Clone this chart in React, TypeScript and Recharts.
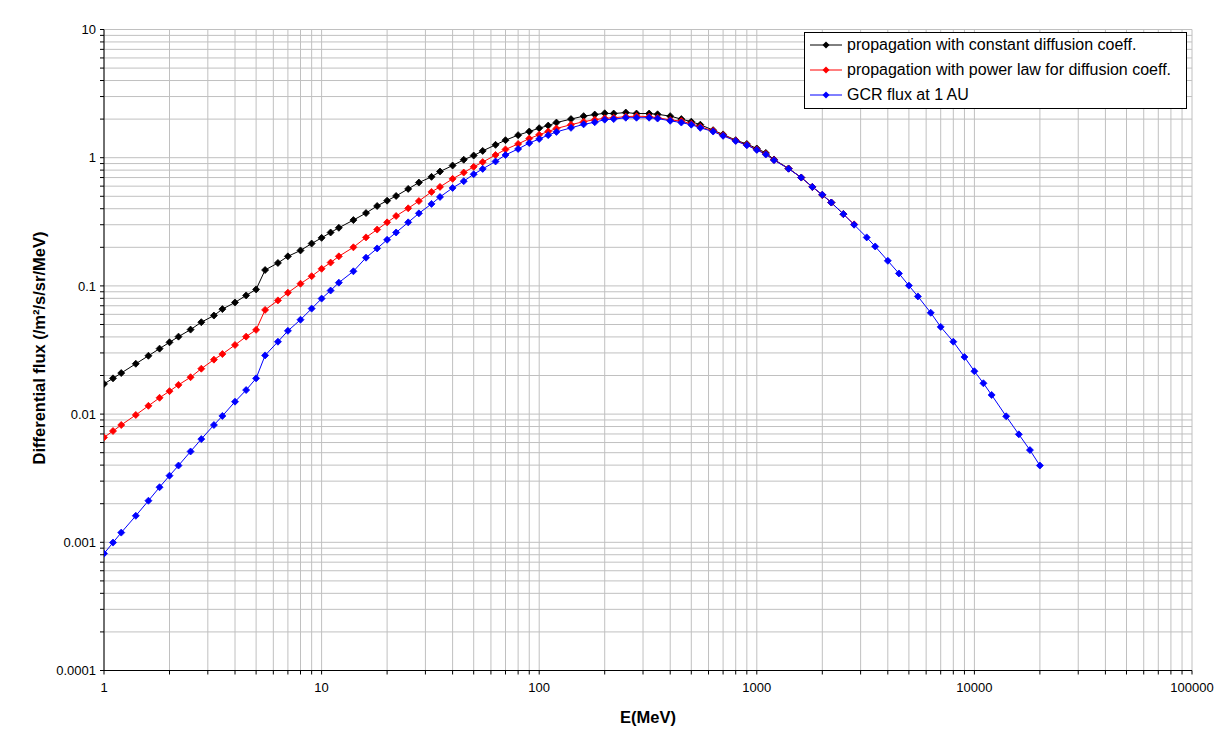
import React from 'react';
import { LineChart, Line, XAxis, YAxis, CartesianGrid, Legend } from 'recharts';

// Energies (MeV) at which the fluxes are tabulated
const ENERGY = [
  1, 1.1, 1.2, 1.4, 1.6, 1.8, 2, 2.2, 2.5, 2.8, 3.2, 3.5, 4, 4.5, 5, 5.5, 6.3, 7, 8, 9,
  10, 11, 12, 14, 16, 18, 20, 22, 25, 28, 32, 35, 40, 45, 50, 55, 63, 70, 80, 90,
  100, 110, 120, 140, 160, 180, 200, 220, 250, 280, 320, 350, 400, 450, 500, 550, 630, 700, 800, 900,
  1000, 1100, 1200, 1400, 1600, 1800, 2000, 2200, 2500, 2800, 3200, 3500, 4000, 4500, 5000, 5500, 6300, 7000, 8000, 9000,
  10000, 11000, 12000, 14000, 16000, 18000, 20000,
];

// propagation with constant diffusion coeff.
const CONST_DIFF = [
  0.0172, 0.019, 0.0209, 0.0247, 0.0285, 0.0324, 0.0363, 0.0402, 0.0456, 0.0521, 0.0587, 0.0659, 0.0743, 0.0843, 0.0939, 0.133, 0.151, 0.17, 0.189, 0.214,
  0.237, 0.261, 0.284, 0.326, 0.37, 0.42, 0.462, 0.503, 0.571, 0.64, 0.709, 0.78, 0.869, 0.964, 1.04, 1.13, 1.26, 1.37, 1.5, 1.6,
  1.7, 1.78, 1.88, 2.0, 2.11, 2.17, 2.22, 2.21, 2.25, 2.21, 2.21, 2.18, 2.11, 2.0, 1.91, 1.81, 1.64, 1.52, 1.37, 1.28,
  1.18, 1.09, 0.969, 0.824, 0.701, 0.592, 0.512, 0.447, 0.363,
];

// propagation with power law for diffusion coeff.
const POWER_DIFF = [
  0.00658, 0.00738, 0.00822, 0.00985, 0.0116, 0.0134, 0.0151, 0.0169, 0.0194, 0.0226, 0.0266, 0.0294, 0.0346, 0.0402, 0.0454, 0.065, 0.0771, 0.0885, 0.104, 0.119,
  0.136, 0.152, 0.17, 0.2, 0.239, 0.275, 0.313, 0.351, 0.403, 0.459, 0.541, 0.592, 0.684, 0.766, 0.849, 0.924, 1.05, 1.16, 1.28, 1.41,
  1.51, 1.6, 1.69, 1.81, 1.91, 1.98, 2.03, 2.05, 2.09, 2.11, 2.09, 2.05, 1.97, 1.93, 1.84, 1.74, 1.62, 1.5, 1.36, 1.26,
  1.16, 1.07, 0.96, 0.822, 0.7, 0.592, 0.513, 0.447, 0.363, 0.302,
];

// GCR flux at 1 AU
const GCR_1AU = [
  0.000816, 0.000995, 0.00119, 0.00161, 0.00211, 0.00269, 0.00331, 0.00397, 0.00511, 0.00638, 0.00822, 0.00967, 0.0125, 0.0154, 0.019, 0.0287, 0.0367, 0.0446, 0.0545, 0.0665,
  0.0796, 0.092, 0.106, 0.13, 0.166, 0.196, 0.229, 0.261, 0.313, 0.368, 0.436, 0.494, 0.581, 0.656, 0.743, 0.818, 0.935, 1.05, 1.17, 1.3,
  1.4, 1.5, 1.59, 1.71, 1.82, 1.89, 1.98, 2.0, 2.05, 2.05, 2.05, 2.02, 1.94, 1.88, 1.81, 1.71, 1.6, 1.48, 1.35, 1.25,
  1.15, 1.06, 0.957, 0.82, 0.7, 0.592, 0.515, 0.447, 0.363, 0.3, 0.239, 0.203, 0.157, 0.125, 0.1005, 0.0828, 0.0617, 0.0479, 0.0367, 0.0279,
  0.0216, 0.0174, 0.0141, 0.00961, 0.00695, 0.00524, 0.00397,
];

const X_DECADES = [1, 10, 100, 1000, 10000, 100000];
const Y_DECADES = [0.0001, 0.001, 0.01, 0.1, 1, 10];
const X_LABELS = ['1', '10', '100', '1000', '10000', '100000'];
const Y_LABELS = ['0.0001', '0.001', '0.01', '0.1', '1', '10'];
const MINOR = [1, 2, 3, 4, 5, 6, 7, 8, 9];

const SERIES = [
  { name: 'propagation with constant diffusion coeff.', color: '#000000', values: CONST_DIFF },
  { name: 'propagation with power law for diffusion coeff.', color: '#ff0000', values: POWER_DIFF },
  { name: 'GCR flux at 1 AU', color: '#0000ff', values: GCR_1AU },
];

const FONT = '"Liberation Sans", Arial, Helvetica, sans-serif';

const buildTicks = (decades: number[]) => {
  const out: number[] = [];
  decades.forEach((d, i) => {
    if (i === decades.length - 1) {
      out.push(d);
    } else {
      MINOR.forEach((m) => out.push(parseFloat((d * m).toPrecision(6))));
    }
  });
  return out;
};

const X_TICKS = buildTicks(X_DECADES);
const Y_TICKS = buildTicks(Y_DECADES);

const labelFor = (v: number, decades: number[], labels: string[]) => {
  const idx = decades.findIndex((d) => Math.abs(d - v) / d < 1e-6);
  return idx >= 0 ? labels[idx] : null;
};

const XTick = (props: any) => {
  const { x, y, payload } = props;
  const lab = labelFor(payload.value, X_DECADES, X_LABELS);
  if (!lab) return <g />;
  return (
    <text x={x} y={y} dy="0.71em" textAnchor="middle" fontSize={13} fontFamily={FONT} fill="#000">
      {lab}
    </text>
  );
};

const YTick = (props: any) => {
  const { x, y, payload } = props;
  const lab = labelFor(payload.value, Y_DECADES, Y_LABELS);
  if (!lab) return <g />;
  return (
    <text x={x} y={y} dy="0.355em" textAnchor="end" fontSize={13} fontFamily={FONT} fill="#000">
      {lab}
    </text>
  );
};

const Diamond = (props: any) => {
  const { cx, cy, stroke } = props;
  if (cx == null || cy == null) return <g />;
  const r = 3.5;
  return (
    <path
      d={`M${cx},${cy - r}L${cx + r},${cy}L${cx},${cy + r}L${cx - r},${cy}Z`}
      fill={stroke}
      stroke={stroke}
      strokeWidth={0.8}
      strokeLinejoin="round"
    />
  );
};

const LegendBox = () => (
  <div
    style={{
      boxSizing: 'border-box',
      width: 383,
      border: '1px solid #000',
      background: '#fff',
      padding: '0 4px 0 5px',
      fontFamily: FONT,
      fontSize: 16,
      color: '#000',
    }}
  >
    {SERIES.map((s) => (
      <div key={s.name} style={{ display: 'flex', alignItems: 'center', height: 25, whiteSpace: 'nowrap' }}>
        <svg width={32} height={10} style={{ marginRight: 5, flex: 'none' }}>
          <line x1={0} y1={5} x2={32} y2={5} stroke={s.color} strokeWidth={1} />
          <path d="M16,1.5L19.5,5L16,8.5L12.5,5Z" fill={s.color} />
        </svg>
        <span>{s.name}</span>
      </div>
    ))}
  </div>
);

const YTitle = (props: any) => {
  const vb = props.viewBox || {};
  const cx = (vb.x || 0) + 38.5;
  const cy = (vb.y || 0) + (vb.height || 0) / 2 - 2;
  return (
    <text
      x={cx}
      y={cy}
      transform={`rotate(-90, ${cx}, ${cy})`}
      textAnchor="middle"
      dominantBaseline="central"
      fontSize={16.5}
      fontWeight="bold"
      fontFamily={FONT}
      fill="#000"
    >
      Differential flux (/m²/s/sr/MeV)
    </text>
  );
};

const XTitle = (props: any) => {
  const vb = props.viewBox || {};
  const cx = (vb.x || 0) + (vb.width || 0) / 2;
  const cy = (vb.y || 0) + 46.5;
  return (
    <text
      x={cx}
      y={cy}
      textAnchor="middle"
      dominantBaseline="central"
      fontSize={16.5}
      fontWeight="bold"
      fontFamily={FONT}
      fill="#000"
    >
      E(MeV)
    </text>
  );
};

export default function App() {
  return (
    <div style={{ position: 'absolute', left: 0, top: 0, width: 1222, height: 750, background: '#fff' }}>
      <LineChart
        width={1222}
        height={750}
        margin={{ top: 29.5, right: 30, bottom: 19.5, left: 0 }}
      >
        <CartesianGrid stroke="#c0c0c0" strokeWidth={1} />
        <XAxis
          dataKey="e"
          type="number"
          scale="log"
          domain={[1, 100000]}
          allowDataOverflow
          ticks={X_TICKS}
          interval={0}
          height={60}
          stroke="#000"
          tickSize={4}
          tickMargin={8}
          tick={<XTick />}
          label={{ content: (p: any) => <XTitle {...p} /> }}
        />
        <YAxis
          type="number"
          scale="log"
          domain={[0.0001, 10]}
          allowDataOverflow
          ticks={Y_TICKS}
          interval={0}
          width={104}
          stroke="#000"
          tickSize={4}
          tickMargin={4}
          tick={<YTick />}
          label={{ content: (p: any) => <YTitle {...p} /> }}
        />
        <XAxis
          xAxisId="top"
          orientation="top"
          type="number"
          domain={[0, 1]}
          height={0}
          tick={false}
          tickLine={false}
          axisLine={{ stroke: '#808080' }}
        />
        <YAxis
          yAxisId="right"
          orientation="right"
          type="number"
          domain={[0, 1]}
          width={0}
          tick={false}
          tickLine={false}
          axisLine={{ stroke: '#808080' }}
        />
        {SERIES.map((s) => (
          <Line
            key={s.name}
            name={s.name}
            data={s.values.map((v, i) => ({ e: ENERGY[i], v }))}
            dataKey="v"
            type="linear"
            stroke={s.color}
            strokeWidth={1}
            dot={(p: any) => <Diamond key={`${s.name}-${p.index}`} {...p} stroke={s.color} />}
            activeDot={false}
            isAnimationActive={false}
          />
        ))}
        <Legend
          layout="vertical"
          align="center"
          verticalAlign="middle"
          content={() => <LegendBox />}
          wrapperStyle={{ position: 'absolute', left: 804, top: 31.5, width: 383, height: 'auto' }}
        />
      </LineChart>
    </div>
  );
}
